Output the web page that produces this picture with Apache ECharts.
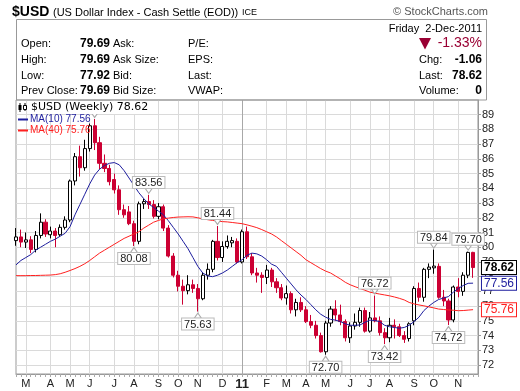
<!DOCTYPE html>
<html><head><meta charset="utf-8">
<script src="https://cdn.jsdelivr.net/npm/echarts@6/dist/echarts.min.js"></script>
<style>html,body{margin:0;padding:0;background:#fff}#c{width:520px;height:391px}</style>
</head><body><div id="c"></div>
<script>
// ---- data (weekly, Friday dates) ----
const weeks = [
'2010-02-19','2010-02-26','2010-03-05','2010-03-12','2010-03-19','2010-03-26','2010-04-02','2010-04-09','2010-04-16','2010-04-23',
'2010-04-30','2010-05-07','2010-05-14','2010-05-21','2010-05-28','2010-06-04','2010-06-11','2010-06-18','2010-06-25','2010-07-02',
'2010-07-09','2010-07-16','2010-07-23','2010-07-30','2010-08-06','2010-08-13','2010-08-20','2010-08-27','2010-09-03','2010-09-10',
'2010-09-17','2010-09-24','2010-10-01','2010-10-08','2010-10-15','2010-10-22','2010-10-29','2010-11-05','2010-11-12','2010-11-19',
'2010-11-26','2010-12-03','2010-12-10','2010-12-17','2010-12-24','2010-12-31','2011-01-07','2011-01-14','2011-01-21','2011-01-28',
'2011-02-04','2011-02-11','2011-02-18','2011-02-25','2011-03-04','2011-03-11','2011-03-18','2011-03-25','2011-04-01','2011-04-08',
'2011-04-15','2011-04-22','2011-04-29','2011-05-06','2011-05-13','2011-05-20','2011-05-27','2011-06-03','2011-06-10','2011-06-17',
'2011-06-24','2011-07-01','2011-07-08','2011-07-15','2011-07-22','2011-07-29','2011-08-05','2011-08-12','2011-08-19','2011-08-26',
'2011-09-02','2011-09-09','2011-09-16','2011-09-23','2011-09-30','2011-10-07','2011-10-14','2011-10-21','2011-10-28','2011-11-04',
'2011-11-11','2011-11-18','2011-11-25','2011-12-02'];
const opens = [
80.45,80.7,80.35,80.5,79.85,80.8,81.7,80.85,81.1,80.85,
81.35,81.85,84.5,86.15,85.4,86.7,88.25,87.1,85.7,85.35,
84.6,83.9,82.55,82.4,81.6,80.4,82.95,83.1,82.9,82.1,
82.75,81.3,79.4,78.1,77.35,77.05,77.45,77.2,76.5,78.1,
78.5,80.4,79.3,80.05,80.3,80.4,79.0,81.05,79.35,78.25,
78.1,77.95,78.45,77.65,77.25,76.55,76.85,75.75,76.25,75.75,
74.95,74.7,74.0,72.9,74.85,75.8,75.4,74.95,73.85,74.65,
74.9,75.7,74.3,75.2,75.0,74.2,73.85,74.7,74.6,74.0,
73.8,75.0,77.2,76.6,78.5,78.6,78.7,76.6,76.35,75.06,
77.3,77.0,78.1,79.65];
const closes = [
80.7,80.35,80.5,79.85,80.8,81.7,80.9,81.1,80.8,81.35,
81.85,84.5,86.15,85.4,86.7,88.25,87.1,85.7,85.35,84.45,
83.9,82.55,82.2,81.6,80.4,82.95,83.1,82.9,82.1,82.75,
81.3,79.4,78.1,77.35,77.05,77.45,77.2,76.5,78.1,78.5,
80.4,79.3,80.05,80.4,80.45,79.0,81.05,79.35,78.25,78.1,
77.95,78.45,77.65,77.25,76.55,76.85,75.75,76.25,75.75,74.95,
74.7,74.0,72.9,74.85,75.8,75.4,74.95,73.85,74.65,74.9,
75.7,74.3,75.2,75.0,74.2,73.85,74.7,74.6,74.0,73.75,
74.8,77.2,76.6,78.5,78.65,78.72,76.6,76.35,75.06,77.3,
77.0,78.1,79.65,78.62];
const lows = [
80.1,80.0,79.95,79.6,79.65,80.6,80.7,80.6,80.0,80.7,
81.2,81.7,84.2,84.8,85.2,86.5,86.6,85.3,85.1,84.2,
83.65,82.2,82.0,81.5,80.08,80.2,82.6,82.6,81.95,81.9,
81.1,79.3,77.95,77.0,76.1,76.8,76.9,75.63,76.4,77.8,
78.3,79.1,79.0,79.9,80.0,78.9,78.9,79.2,78.1,77.6,
76.9,77.5,77.3,76.9,76.4,76.1,75.5,75.3,75.6,74.85,
74.5,73.8,72.85,72.70,74.6,75.0,74.7,73.6,73.5,74.4,
74.6,74.2,74.2,74.9,74.0,73.42,73.55,73.8,73.9,73.5,
73.6,74.7,76.3,76.3,77.9,78.2,76.5,76.0,74.72,74.9,
76.6,76.7,77.9,77.92];
const highs = [
81.3,81.2,81.0,80.75,81.1,82.3,81.9,81.4,81.3,81.55,
82.1,84.6,86.4,86.9,87.3,88.4,88.71,87.5,86.3,85.6,
85.0,84.2,82.9,82.8,81.8,83.1,83.3,83.56,83.2,83.0,
82.9,81.5,79.6,78.4,77.8,78.1,77.8,77.5,78.3,78.9,
80.5,81.44,80.4,80.8,80.7,80.6,81.2,81.4,79.6,78.6,
78.3,78.8,78.6,77.9,77.5,77.4,77.0,76.5,76.6,76.0,
75.4,75.0,74.2,75.0,76.0,76.4,76.1,75.1,74.9,75.5,
75.9,75.9,75.6,76.72,75.3,74.5,75.2,75.1,74.8,74.3,
74.9,77.35,77.6,78.6,78.9,79.84,78.9,77.1,76.5,77.4,
77.9,78.3,79.70,79.69];
const ma10 = [
78.8,79.1,79.3,79.5,79.8,80.0,80.2,80.4,80.55,80.75,
80.95,81.4,82.2,82.9,83.6,84.3,84.9,85.3,85.55,85.7,
85.75,85.6,85.2,84.7,84.2,83.7,83.3,82.95,82.7,82.45,
82.2,81.8,81.35,80.9,80.4,79.9,79.3,78.7,78.25,78.05,
78.0,78.1,78.25,78.45,78.7,78.95,79.15,79.45,79.6,79.55,
79.4,79.15,78.85,78.7,78.3,77.9,77.5,77.1,76.75,76.45,
76.1,75.75,75.45,75.25,75.1,75.05,74.95,74.8,74.7,74.7,
74.72,74.9,75.05,75.02,74.95,74.7,74.6,74.55,74.5,74.55,
74.7,74.95,75.25,75.7,76.0,76.25,76.45,76.55,76.65,76.95,
77.2,77.4,77.55,77.56];
const ma40 = [
78.07,78.07,78.07,78.08,78.08,78.09,78.1,78.11,78.14,78.2,
78.3,78.42,78.55,78.7,78.88,79.1,79.35,79.6,79.8,80.0,
80.2,80.4,80.6,80.75,80.9,81.05,81.3,81.5,81.7,81.82,
81.93,81.98,82.02,82.05,82.06,82.07,82.06,82.0,81.93,81.87,
81.82,81.78,81.74,81.72,81.68,81.64,81.6,81.52,81.43,81.33,
81.2,81.05,80.9,80.7,80.45,80.2,79.95,79.7,79.45,79.15,
78.95,78.75,78.55,78.38,78.25,78.05,77.85,77.62,77.45,77.32,
77.2,77.08,76.95,76.88,76.82,76.76,76.7,76.62,76.53,76.42,
76.25,76.15,76.08,76.02,75.95,75.88,75.8,75.77,75.74,75.72,
75.69,75.7,75.73,75.76];
const monthTickDates = ['2010-03-05','2010-04-09','2010-05-07','2010-06-04','2010-07-09','2010-08-06','2010-09-10','2010-10-08','2010-11-05','2010-12-10',
'2011-01-07','2011-02-11','2011-03-11','2011-04-08','2011-05-06','2011-06-10','2011-07-08','2011-08-05','2011-09-09','2011-10-07','2011-11-11'];
const monthTickLabels = ['M','A','M','J','J','A','S','O','N','D','11','F','M','A','M','J','J','A','S','O','N'];
const yTicks = [72,73,74,75,76,77,78,79,80,81,82,83,84,85,86,87,88,89];
const annotDates = ['2010-06-11','2010-08-27','2010-08-06','2010-11-05','2010-12-03','2011-05-06','2011-07-15','2011-07-29','2011-10-07','2011-10-28','2011-11-25'];
const annotValues = [88.71,83.56,80.08,75.63,81.44,72.70,76.72,73.42,79.84,74.72,79.70];
const annotSides = ['high','high','low','low','high','low','high','low','high','low','high'];
// header quote values
const quoteLeft = [['Open:','79.69'],['High:','79.69'],['Low:','77.92'],['Prev Close:','79.69']];
const quoteMid = ['Ask:','Ask Size:','Bid:','Bid Size:'];
const quoteMid2 = ['P/E:','EPS:','Last:','VWAP:'];
const quoteRight = [['Chg:','-1.06'],['Last:','78.62'],['Volume:','0']];

// ---- build ----
const F = '"Liberation Sans", Arial, sans-serif';
const RED = '#cc0033', BLUE = '#1e1e9e', MARED = '#ff2020';
const cats = weeks.concat([' ']);
const monthOf = {};
monthTickDates.forEach((d, i) => monthOf[d] = monthTickLabels[i]);
const candles = weeks.map((d, i) => [opens[i], closes[i], lows[i], highs[i]]);
const lastClose = closes[closes.length - 1], lastMa10 = ma10[ma10.length - 1], lastMa40 = ma40[ma40.length - 1];

const gridColors = monthTickLabels.map(l => l === '11' ? '#a8a8a8' : '#dadada');

const markData = annotDates.map((d, i) => {
  const hi = annotSides[i] === 'high';
  return { coord: [d, annotValues[i]], value: annotValues[i], symbolRotate: hi ? 180 : 0,
    symbolOffset: [0, hi ? -4 : 4], label: { position: hi ? 'top' : 'bottom' } };
});

function T(x, y, text, font, fill, align, extra) {
  return Object.assign({ type: 'text', x: x, y: y, z: 100,
    style: Object.assign({ text: text, font: font, fill: fill || '#000', align: align || 'left', verticalAlign: 'middle' }, extra || {}) });
}
const rows = [44, 60, 76, 91];
const g = [];
g.push({ type: 'rect', z: 90, shape: { x: 16.5, y: 19.5, width: 470, height: 80.5 }, style: { fill: 'none', stroke: '#999', lineWidth: 1 } });
g.push(T(12, 12.5, '$USD', 'bold 14px ' + F));
g.push(T(53, 12.5, '(US Dollar Index - Cash Settle (EOD))', '11px ' + F));
g.push(T(242, 13, 'ICE', '9px ' + F));
g.push(T(488, 12, '\u00a9 StockCharts.com', '11px ' + F, '#555', 'right'));
quoteLeft.forEach((q, i) => { g.push(T(21, rows[i], q[0], '11px ' + F)); g.push(T(110, rows[i], q[1], 'bold 12px ' + F, '#000', 'right')); });
quoteMid.forEach((q, i) => g.push(T(113, rows[i], q, '11px ' + F)));
quoteMid2.forEach((q, i) => g.push(T(188, rows[i], q, '11px ' + F)));
g.push(T(482, 28.5, 'Friday  2-Dec-2011', '11px ' + F, '#000', 'right'));
g.push({ type: 'polygon', z: 100, shape: { points: [[419, 38], [431, 38], [425, 49.5]] }, style: { fill: '#990033' } });
g.push(T(482, 43.5, '-1.33%', '14px ' + F, '#990033', 'right'));
quoteRight.forEach((q, i) => { g.push(T(419, rows[i + 1], q[0], '11px ' + F)); g.push(T(482, rows[i + 1], q[1], 'bold 12px ' + F, '#000', 'right')); });
// legend inside plot
g.push(T(30, 107.5, '$USD (Weekly) ' + lastClose.toFixed(2), '11px "DejaVu Sans", Verdana, sans-serif', '#000', 'left', { backgroundColor: '#fff', padding: [1, 2, 1, 1] }));
g.push({ type: 'line', z: 101, shape: { x1: 20, y1: 103, x2: 20, y2: 112 }, style: { stroke: '#000', lineWidth: 1 } });
g.push({ type: 'rect', z: 101, shape: { x: 18.5, y: 105, width: 3, height: 5 }, style: { fill: '#000' } });
g.push({ type: 'line', z: 101, shape: { x1: 25, y1: 103, x2: 25, y2: 111 }, style: { stroke: '#000', lineWidth: 1 } });
g.push({ type: 'rect', z: 101, shape: { x: 23.5, y: 105.5, width: 3, height: 4 }, style: { fill: '#fff', stroke: '#000', lineWidth: 1 } });
g.push({ type: 'line', z: 100, shape: { x1: 18, y1: 119.5, x2: 28, y2: 119.5 }, style: { stroke: BLUE, lineWidth: 2 } });
g.push(T(30, 119.5, 'MA(10) ' + lastMa10.toFixed(2), '10px ' + F, BLUE));
g.push({ type: 'line', z: 100, shape: { x1: 18, y1: 130.5, x2: 28, y2: 130.5 }, style: { stroke: MARED, lineWidth: 2 } });
g.push(T(30, 130.5, 'MA(40) ' + lastMa40.toFixed(2), '10px ' + F, MARED));

const tagBase = { fontFamily: F, fontSize: 12, backgroundColor: '#fff', borderWidth: 1, padding: [1, 2, 0, 2], lineHeight: 12 };
const option = {
  animation: false,
  backgroundColor: '#fff',
  grid: { left: 16, right: 33, top: 100, bottom: 17, show: true, borderColor: '#999', borderWidth: 1 },
  xAxis: {
    type: 'category', data: cats, boundaryGap: false,
    axisLine: { lineStyle: { color: '#999' } },
    axisTick: { show: true, interval: 0, length: 3, lineStyle: { color: '#aaa' } },
    axisLabel: { interval: 0, margin: 4, fontFamily: F, fontSize: 11, color: '#222',
      formatter: v => { const m = monthOf[v]; if (!m) return ''; return m === '11' ? '{b|11}' : m; },
      rich: { b: { fontWeight: 'bold', fontSize: 13, fontFamily: F, color: '#222' } } },
    splitLine: { show: true, interval: (i, v) => !!monthOf[v], lineStyle: { color: gridColors, width: 1 } }
  },
  yAxis: [{
    type: 'value', position: 'right', min: 71.39, max: 90, scale: true,
    axisLine: { show: true, lineStyle: { color: '#999' } },
    axisTick: { show: true, length: 3, customValues: yTicks, lineStyle: { color: '#999' } },
    axisLabel: { customValues: yTicks, margin: 4, fontFamily: F, fontSize: 11, color: '#222' },
    splitLine: { show: true, lineStyle: { color: '#dadada', width: 1 } }
  }, {
    type: 'value', position: 'right', min: 71.39, max: 90, scale: true, z: 10,
    axisLine: { show: false }, axisTick: { show: false }, splitLine: { show: false },
    axisLabel: { customValues: [lastClose, lastMa10, lastMa40], margin: 4,
      formatter: v => {
        if (Math.abs(v - lastClose) < 1e-6) return '{k|' + lastClose.toFixed(2) + '}';
        if (Math.abs(v - lastMa10) < 1e-6) return '{b|' + lastMa10.toFixed(2) + '}';
        return '{r|' + lastMa40.toFixed(2) + '}';
      },
      rich: {
        k: Object.assign({}, tagBase, { color: '#000', fontWeight: 'bold', borderColor: '#000' }),
        b: Object.assign({}, tagBase, { color: BLUE, borderColor: BLUE }),
        r: Object.assign({}, tagBase, { color: MARED, borderColor: MARED })
      } }
  }],
  series: [{
    type: 'candlestick', data: candles, barWidth: 3.6, yAxisIndex: 0,
    itemStyle: { color: '#fff', color0: RED, borderColor: '#000', borderColor0: RED, borderWidth: 1 },
    markPoint: {
      symbol: 'triangle', symbolSize: [7, 5],
      itemStyle: { color: '#fff', borderColor: '#aaa', borderWidth: 1 },
      label: { show: true, formatter: p => p.value.toFixed(2), fontFamily: F, fontSize: 11, lineHeight: 10, color: '#222',
        backgroundColor: '#fff', borderColor: '#bbb', borderWidth: 1, padding: [1, 2, 0, 2], distance: 0 },
      data: markData
    }
  }, {
    type: 'line', data: ma10, symbol: 'none', yAxisIndex: 0, lineStyle: { color: BLUE, width: 1 }, z: 3
  }, {
    type: 'line', data: ma40, symbol: 'none', yAxisIndex: 0, lineStyle: { color: MARED, width: 1 }, z: 3
  }],
  graphic: { elements: g }
};
const chart = echarts.init(document.getElementById('c'), null, { renderer: 'canvas' });
chart.setOption(option);
</script></body></html>
